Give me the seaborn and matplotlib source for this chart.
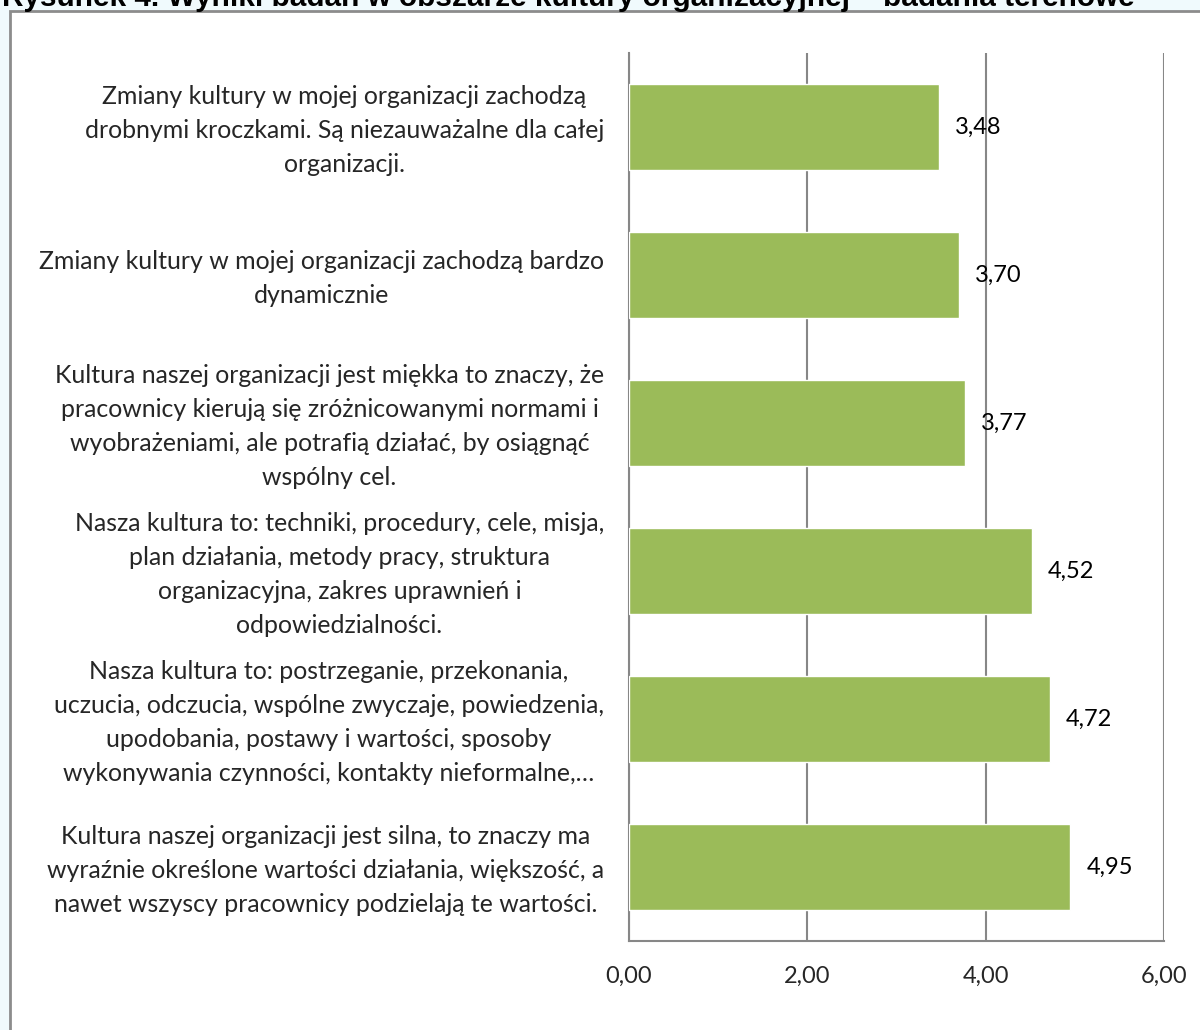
import matplotlib
matplotlib.use("Agg")
import matplotlib.pyplot as plt
import matplotlib.transforms as mtransforms
from matplotlib.patches import Rectangle
import seaborn as sns
import pandas as pd

# Survey statements (top to bottom) and their mean scores
statements = [
    "Zmiany kultury w mojej organizacji zachodzą\ndrobnymi kroczkami. Są niezauważalne dla całej\norganizacji.",
    "Zmiany kultury w mojej organizacji zachodzą bardzo\ndynamicznie",
    "Kultura naszej organizacji jest miękka to znaczy, że\npracownicy kierują się zróżnicowanymi normami i\nwyobrażeniami, ale potrafią działać, by osiągnąć\nwspólny cel.",
    "Nasza kultura to: techniki, procedury, cele, misja,\nplan działania, metody pracy, struktura\norganizacyjna, zakres uprawnień i\nodpowiedzialności.",
    "Nasza kultura to: postrzeganie, przekonania,\nuczucia, odczucia, wspólne zwyczaje, powiedzenia,\nupodobania, postawy i wartości, sposoby\nwykonywania czynności, kontakty nieformalne,…",
    "Kultura naszej organizacji jest silna, to znaczy ma\nwyraźnie określone wartości działania, większość, a\nnawet wszyscy pracownicy podzielają te wartości.",
]
scores = [3.48, 3.70, 3.77, 4.52, 4.72, 4.95]
x_ticks = [0, 2, 4, 6]
title = "Rysunek 4. Wyniki badań w obszarze kultury organizacyjnej – badania terenowe"

df = pd.DataFrame({"statement": statements, "score": scores})

sns.set_theme(style="white")
plt.rcParams["font.family"] = ["Lato", "DejaVu Sans"]

BAR = "#9BBB59"
GRID = "#878787"
W, H = 1200, 1030
fig = plt.figure(figsize=(W / 100, H / 100), dpi=100, facecolor="#F0FAFD")

# white chart panel with grey frame
fig.patches.append(Rectangle((10 / W, -0.1), 1.2, (H - 11) / H + 0.1,
                             transform=fig.transFigure, facecolor="white",
                             edgecolor="#8C8C8C", linewidth=2, zorder=-5))

fig.text(2 / W, 1 - 6 / H, title, ha="left", va="baseline", fontsize=21.4,
         fontweight="bold", family=["Liberation Sans", "DejaVu Sans"], color="black")

ax = fig.add_axes([629 / W, (H - 941) / H, 535 / W, 888 / H])
ax.set_facecolor("white")
sns.barplot(data=df, x="score", y="statement", orient="h", color=BAR,
            saturation=1, width=0.58, ax=ax, zorder=3)

ax.set_xlim(0, 6)
ax.set_xticks(x_ticks)
ax.set_xticklabels([f"{v:.2f}".replace(".", ",") for v in x_ticks], fontsize=17)
ax.tick_params(axis="x", length=0, pad=18)
ax.tick_params(axis="y", length=0, pad=18)
lift = mtransforms.ScaledTranslation(0, 4 / 100, fig.dpi_scale_trans)
for lbl in ax.get_yticklabels():
    lbl.set_fontsize(17.9)
    lbl.set_multialignment("center")
    lbl.set_linespacing(1.58)
    lbl.set_transform(lbl.get_transform() + lift)
ax.set_xlabel("")
ax.set_ylabel("")
ax.xaxis.grid(True, color=GRID, linewidth=1.5, zorder=0)
ax.set_axisbelow(True)
for side in ("top", "right"):
    ax.spines[side].set_visible(False)
for side in ("left", "bottom"):
    ax.spines[side].set_color(GRID)
    ax.spines[side].set_linewidth(1.5)

for i, v in enumerate(scores):
    ax.text(v + 0.18, i, f"{v:.2f}".replace(".", ","), va="center", ha="left",
            fontsize=17, color="black", zorder=4)

fig.savefig("out.png", dpi=100, facecolor=fig.get_facecolor())
